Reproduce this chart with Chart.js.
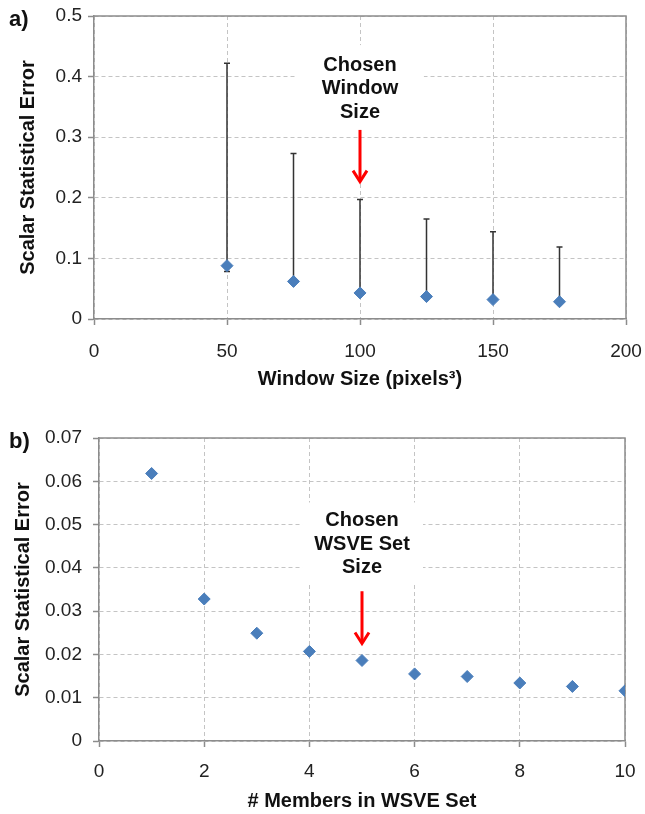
<!DOCTYPE html>
<html lang="en">
<head>
<meta charset="UTF-8">
<title>Scalar Statistical Error</title>
<script src="https://cdn.jsdelivr.net/npm/chart.js"></script>
<style>
  body { margin: 0; background: #fff; }
  canvas { display: block; }
</style>
</head>
<body>
<canvas id="chartA" width="645" height="400"></canvas>
<canvas id="chartB" width="645" height="414"></canvas>

<script>
// panel a: error vs window size
const windowSizes = [50, 75, 100, 125, 150, 175];
const windowError = [0.088, 0.062, 0.043, 0.037, 0.032, 0.0285];
const windowErrLow = [0.0785, 0.060, 0.041, 0.035, 0.030, 0.027];
const windowErrHigh = [0.422, 0.273, 0.197, 0.165, 0.144, 0.119];

// panel b: error vs number of WSVE members
const members = [1, 2, 3, 4, 5, 6, 7, 8, 9, 10];
const memberError = [0.0618, 0.0328, 0.0249, 0.0207, 0.0186, 0.0155, 0.0149, 0.0134, 0.0126, 0.0116];

const chosenWindow = 100;
const chosenMembers = 5;

const FONT = '"Liberation Sans", Arial, sans-serif';
Chart.defaults.font.family = FONT;

const axisGrey = '#8c8c8c';
const gridGrey = '#c4c4c4';
const blue = '#4a7ebb';

// frame, white note box, label text, red arrow, error bars, panel letter
const panelDecor = {
  id: 'panelDecor',
  beforeDatasetsDraw(chart, args, opts) {
    const { ctx, chartArea: a, scales: { x, y } } = chart;
    ctx.save();

    ctx.strokeStyle = axisGrey;
    ctx.lineWidth = 1.5;
    ctx.beginPath();
    ctx.moveTo(a.left, a.top);
    ctx.lineTo(a.right, a.top);
    ctx.lineTo(a.right, a.bottom);
    ctx.stroke();

    const n = opts.note;
    const bx0 = x.getPixelForValue(n.box[0]), bx1 = x.getPixelForValue(n.box[1]);
    const by0 = y.getPixelForValue(n.box[3]), by1 = y.getPixelForValue(n.box[2]);
    ctx.fillStyle = '#fff';
    ctx.fillRect(bx0, by0, bx1 - bx0, by1 - by0);

    const cx = x.getPixelForValue(n.x);
    ctx.fillStyle = '#111';
    ctx.font = 'bold 20px ' + FONT;
    ctx.textAlign = 'center';
    ctx.textBaseline = 'middle';
    n.lines.forEach((t, i) => ctx.fillText(t, cx, y.getPixelForValue(n.lineY[i])));

    const ay0 = y.getPixelForValue(n.arrow[0]);
    const ay1 = y.getPixelForValue(n.arrow[1]);
    ctx.strokeStyle = '#ff0000';
    ctx.lineWidth = 3;
    ctx.beginPath();
    ctx.moveTo(cx, ay0);
    ctx.lineTo(cx, ay1 - 2);
    ctx.stroke();
    ctx.beginPath();
    ctx.moveTo(cx - 7, ay1 - 12);
    ctx.lineTo(cx, ay1 - 1);
    ctx.lineTo(cx + 7, ay1 - 12);
    ctx.stroke();

    if (opts.errLow) {
      ctx.strokeStyle = '#333';
      ctx.lineWidth = 1.5;
      opts.xs.forEach((v, i) => {
        const px = x.getPixelForValue(v);
        const lo = y.getPixelForValue(opts.errLow[i]);
        const hi = y.getPixelForValue(opts.errHigh[i]);
        ctx.beginPath();
        ctx.moveTo(px, lo);
        ctx.lineTo(px, hi);
        ctx.moveTo(px - 3, hi);
        ctx.lineTo(px + 3, hi);
        ctx.moveTo(px - 3, lo);
        ctx.lineTo(px + 3, lo);
        ctx.stroke();
      });
    }
    ctx.restore();
  },
  afterDraw(chart, args, opts) {
    const ctx = chart.ctx;
    ctx.save();
    ctx.fillStyle = '#111';
    ctx.font = 'bold 22px ' + FONT;
    ctx.textAlign = 'left';
    ctx.textBaseline = 'middle';
    ctx.fillText(opts.letter, 9, opts.letterY);
    ctx.restore();
  }
};

function axis(min, max, step, title, opt) {
  return {
    type: 'linear',
    min: min,
    max: max,
    ticks: { stepSize: step, padding: opt.pad, color: '#222', font: { size: 19 } },
    grid: { color: gridGrey, lineWidth: 1, tickLength: 6, tickColor: axisGrey, tickWidth: 1.5 },
    border: { color: axisGrey, width: 1.5, dash: [4, 3] },
    title: {
      display: true, text: title, color: '#111',
      font: { size: 20, weight: 'bold' },
      padding: opt.titlePad
    },
    afterFit(s) {
      // keep the plot area where the layout padding puts it
      s.paddingLeft = 0;
      s.paddingRight = 0;
      s.paddingTop = 0;
      s.paddingBottom = 0;
      opt.fit(s);
    }
  };
}

function points(xs, ys) {
  return xs.map((v, i) => ({ x: v, y: ys[i] }));
}

const dotStyle = {
  pointStyle: 'rectRot',
  pointRadius: 6,
  backgroundColor: blue,
  borderColor: blue,
  borderWidth: 1,
  showLine: false
};

new Chart(document.getElementById('chartA'), {
  type: 'scatter',
  data: { datasets: [Object.assign({ data: points(windowSizes, windowError) }, dotStyle)] },
  options: {
    responsive: false,
    animation: false,
    layout: { padding: { left: 0, right: 19, top: 16, bottom: 0 } },
    plugins: {
      legend: { display: false },
      tooltip: { enabled: false },
      panelDecor: {
        letter: 'a)', letterY: 20,
        xs: windowSizes, errLow: windowErrLow, errHigh: windowErrHigh,
        note: {
          x: chosenWindow,
          lines: ['Chosen', 'Window', 'Size'],
          lineY: [0.419, 0.381, 0.340],
          box: [76, 124, 0.312, 0.452],
          arrow: [0.312, 0.225]
        }
      }
    },
    scales: {
      x: axis(0, 200, 50, 'Window Size (pixels³)', {
        pad: 15, titlePad: { top: 0, bottom: 9 }, fit: s => { s.height = 81; }
      }),
      y: axis(0, 0.5, 0.1, 'Scalar Statistical Error', {
        pad: 6, titlePad: { top: 16, bottom: 0 }, fit: s => { s.width = 94; }
      })
    }
  },
  plugins: [panelDecor]
});

new Chart(document.getElementById('chartB'), {
  type: 'scatter',
  data: { datasets: [Object.assign({ data: points(members, memberError) }, dotStyle)] },
  options: {
    responsive: false,
    animation: false,
    layout: { padding: { left: 0, right: 20, top: 38, bottom: 0 } },
    plugins: {
      legend: { display: false },
      tooltip: { enabled: false },
      panelDecor: {
        letter: 'b)', letterY: 42,
        note: {
          x: chosenMembers,
          lines: ['Chosen', 'WSVE Set', 'Size'],
          lineY: [0.0510, 0.0454, 0.0400],
          box: [3.86, 6.16, 0.0364, 0.0551],
          arrow: [0.0346, 0.0223]
        }
      }
    },
    scales: {
      x: axis(0, 10, 2, '# Members in WSVE Set', {
        pad: 13, titlePad: { top: 0, bottom: 1 }, fit: s => { s.height = 73; }
      }),
      y: axis(0, 0.07, 0.01, 'Scalar Statistical Error', {
        pad: 11, titlePad: { top: 11, bottom: 0 }, fit: s => { s.width = 99; }
      })
    }
  },
  plugins: [panelDecor]
});
</script>
</body>
</html>
